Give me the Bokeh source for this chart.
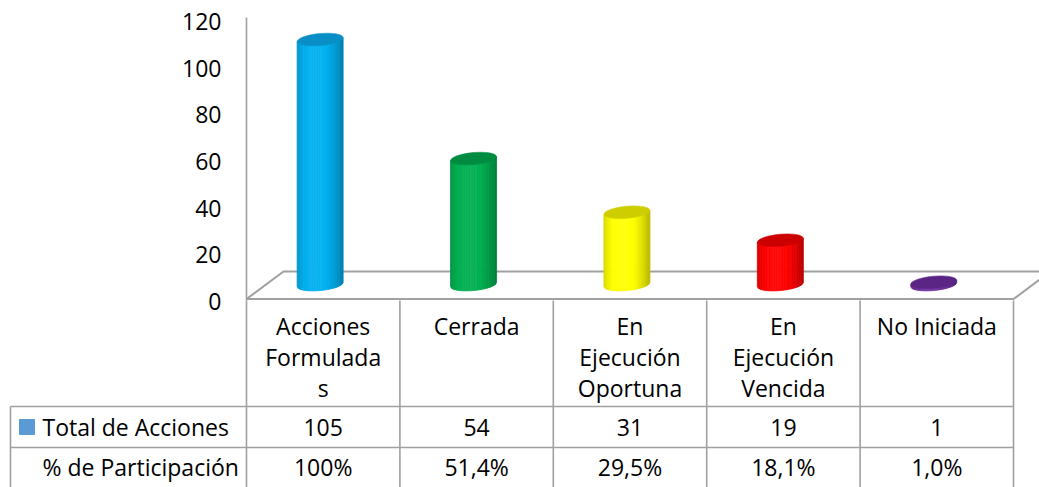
import numpy as np
from bokeh.plotting import figure
from bokeh.models import Range1d
from bokeh.core.properties import value
from bokeh.embed import file_html
from bokeh.resources import INLINE

# ---------------- data ----------------
categories = ["Acciones\nFormulada\ns", "Cerrada", "En\nEjecución\nOportuna",
              "En\nEjecución\nVencida", "No Iniciada"]
totals = [105, 54, 31, 19, 1]
pct_labels = ["100%", "51,4%", "29,5%", "18,1%", "1,0%"]
series_names = ["Total de Acciones", "% de Participación"]
y_ticks = [0, 20, 40, 60, 80, 100, 120]
bar_colors = ["#00B0F0", "#00B050", "#FFFF00", "#FF0000", "#7030A0"]
top_colors = ["#0A8EC6", "#008C40", "#CDCD00", "#CC0000", "#5A2585"]

FONT = "Open Sans"
FS = "23px"
GRID = "#A0A0A0"

# ---------------- geometry (styles) ----------------
W, H = 1039, 487                 # canvas (page has no margin in Bokeh's template)
PPX = 153.4                      # px per category
PPY = 2.3333                     # px per value unit
X0_PAGE = 246                    # page x of category 0 / value axis
Y0_PAGE = 298.5                  # page y of value 0
XS = (0 - X0_PAGE) / PPX
XE = (W - X0_PAGE) / PPX
YS = -(H - Y0_PAGE) / PPY
YE = Y0_PAGE / PPY

TBL_TOP = 300                    # page y of table top
DEPTH_X = 37 / PPX
DEPTH_Y = 27.5 / PPY
BASE = 6.2                       # mid-depth offset of the cylinders
HALF_W = 23.0                    # px
ELL_H = 12.0                     # px
TILT = 0.09                      # rad
OFFS = 0.48


def hex2rgb(h):
    h = h.lstrip("#")
    return np.array([int(h[i:i + 2], 16) for i in (0, 2, 4)], dtype=float)


def shade(h, f):
    c = hex2rgb(h)
    if f <= 1:
        c = c * f
    else:
        c = c + (255 - c) * (f - 1)
    c = np.clip(c, 0, 255).astype(int)
    return "#%02x%02x%02x" % tuple(c)


def factor(t):
    if t < 0.4:
        return 1.05 - 0.2 * ((0.4 - t) / 0.4) ** 2
    return 1.05 - 0.33 * ((t - 0.4) / 0.6) ** 2


p = figure(width=W, height=H, output_backend="svg", toolbar_location=None,
           x_range=Range1d(XS, XE), y_range=Range1d(YS, YE),
           x_axis_location=None, y_axis_location=None, min_border=0)
p.outline_line_color = None
p.xgrid.visible = False
p.ygrid.visible = False
p.background_fill_color = "white"
# table coordinates: page y offset from table top (downwards)
p.extra_y_ranges = {"tbl": Range1d(H - TBL_TOP, -TBL_TOP)}

n = len(categories)

# value axis line and labels
p.line([0, 0], [-(TBL_TOP - Y0_PAGE) / PPY, (Y0_PAGE - 17) / PPY],
       line_color=GRID, line_width=1.6)
p.text(x=[(221 - X0_PAGE) / PPX] * len(y_ticks), y=y_ticks,
       text=[str(v) for v in y_ticks], text_font=value(FONT), text_font_size=FS,
       text_align="right", text_baseline="middle", text_color="black",
       y_offset=2.5)

# floor
p.patch([0, n, n + DEPTH_X, DEPTH_X], [0, 0, DEPTH_Y, DEPTH_Y],
        fill_color="white", line_color=GRID, line_width=2)

# cylinders
NS = 28
slope = np.tan(TILT)
for i, v in enumerate(totals):
    c = i + OFFS
    top = v + BASE
    xs_all, ys_all, cols = [], [], []
    for k in range(NS):
        x0 = -HALF_W + 2 * HALF_W * k / NS
        x1 = -HALF_W + 2 * HALF_W * (k + 1) / NS
        xx = np.linspace(x0, x1, 3)
        yb = BASE + (slope * xx - ELL_H / 2 * np.sqrt(np.clip(1 - (xx / HALF_W) ** 2, 0, 1))) / PPY
        yt = top + slope * xx[::-1] / PPY
        xs_all.append(list(c + xx / PPX) + list(c + xx[::-1] / PPX))
        ys_all.append(list(yb) + list(yt))
        cols.append(shade(bar_colors[i], factor((k + 0.5) / NS)))
    p.patches(xs_all, ys_all, fill_color=cols, line_color=cols, line_width=0.8)
    p.ellipse(x=[c], y=[top], width=[2 * HALF_W], height=[ELL_H], angle=[TILT],
              width_units="screen", height_units="screen",
              fill_color=top_colors[i], line_color=top_colors[i], line_width=0.5)

# ---------------- data table ----------------
R1, R2, R3 = 106, 147, 188
LEFT = (10 - X0_PAGE) / PPX
for j in range(n + 1):
    p.line([j, j], [0, R3], line_color=GRID, line_width=1.6, y_range_name="tbl")
p.line([LEFT, LEFT], [R1, R3], line_color=GRID, line_width=1.6, y_range_name="tbl")
for yy in (R1, R2):
    p.line([LEFT, n], [yy, yy], line_color=GRID, line_width=1.6, y_range_name="tbl")

cx = [i + 0.5 for i in range(n)]
p.text(x=cx, y=[9] * n, text=categories, text_font=value(FONT),
       text_font_size=FS, text_align="center", text_baseline="top",
       text_color="black", text_line_height=0.98, y_range_name="tbl")
p.text(x=cx, y=[(R1 + R2) / 2] * n, text=[str(v) for v in totals],
       text_font=value(FONT), text_font_size=FS, text_align="center",
       text_baseline="middle", text_color="black", y_range_name="tbl")
p.text(x=cx, y=[(R2 + R3) / 2 - 1] * n, text=pct_labels,
       text_font=value(FONT), text_font_size=FS, text_align="center",
       text_baseline="middle", text_color="black", y_range_name="tbl")

LBL_X = (42 - X0_PAGE) / PPX
p.text(x=[LBL_X, LBL_X], y=[(R1 + R2) / 2, (R2 + R3) / 2 - 1], text=series_names,
       text_font=value(FONT), text_font_size=FS, text_align="left",
       text_baseline="middle", text_color="black", y_range_name="tbl")
KEY_X = (26.5 - X0_PAGE) / PPX
p.scatter(x=[KEY_X], y=[(R1 + R2) / 2], marker="square", size=15,
          fill_color="#5B9BD5", line_color="#5B9BD5", y_range_name="tbl")

open("out.html", "w").write(file_html(p, INLINE))
